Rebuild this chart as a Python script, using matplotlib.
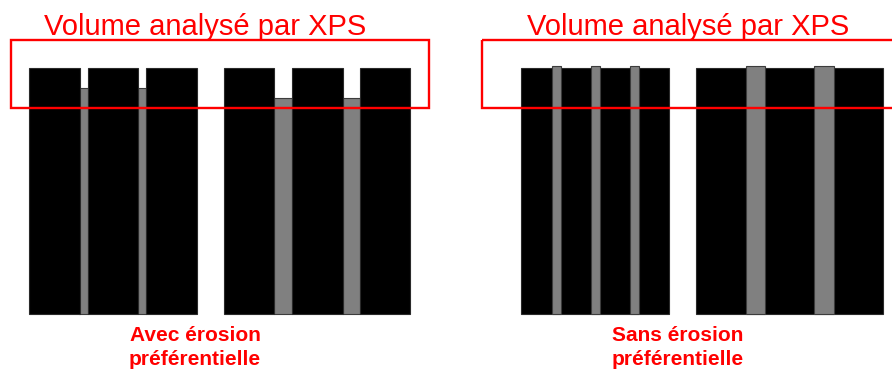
import matplotlib.pyplot as plt
from matplotlib.patches import Rectangle

# schematic drawn in pixel units (x to the right, y downwards)
W, H = 892, 372

title = "Volume analysé par XPS"
panel_labels = [["Avec érosion", "préférentielle"], ["Sans érosion", "préférentielle"]]
title_x = [205, 688]
label_x = [195, 678]

# black blocks: left edge, width
block_left = [29, 88, 146, 224, 292, 360, 521, 696]
block_width = [51, 50, 51, 50, 51, 50, 148, 187]
block_top = 68
block_bottom = 314

# grey pillars: left edge, width, top
pillar_left = [79, 138, 274, 343, 552, 591, 630, 746, 814]
pillar_width = [9, 8, 18, 17, 9, 9, 9, 19, 20]
pillar_top = [88, 88, 98, 98, 66, 66, 66, 66, 66]
pillar_on_top = [False, False, False, False, True, True, True, True, True]

# red "volume analysed" frames: x0, x1
frame_x0 = [11, 482]
frame_x1 = [429, 905]
frame_top, frame_bottom = 40, 108

fig = plt.figure(figsize=(W / 100, H / 100), dpi=100)
ax = fig.add_axes([0, 0, 1, 1])
ax.set_xlim(0, W)
ax.set_ylim(H, 0)
ax.axis("off")

for x, w, t, over in zip(pillar_left, pillar_width, pillar_top, pillar_on_top):
    ax.bar(x, block_bottom - t, w, bottom=t, align="edge", color="#808080",
           edgecolor="#3c3c3c", linewidth=0.8, zorder=3 if over else 1)

ax.bar(block_left, [block_bottom - block_top] * len(block_left), block_width,
       bottom=block_top, align="edge", color="black", edgecolor="#2a2a2a",
       linewidth=0.8, zorder=2)

for x0, x1 in zip(frame_x0, frame_x1):
    ax.add_patch(Rectangle((x0, frame_top), x1 - x0, frame_bottom - frame_top,
                           fill=False, edgecolor="#ff0000", linewidth=1.7, zorder=5))

for tx in title_x:
    ax.text(tx, 35, title, ha="center", va="baseline", color="#ff0000",
            fontsize=21, family="Liberation Sans", zorder=6)

for lx, lines in zip(label_x, panel_labels):
    for ly, line in zip([341, 365], lines):
        ax.text(lx, ly, line, ha="center", va="baseline", color="#ff0000",
                fontsize=15, fontweight="bold", family="Liberation Sans", zorder=6)

fig.savefig("out.png", dpi=100)
